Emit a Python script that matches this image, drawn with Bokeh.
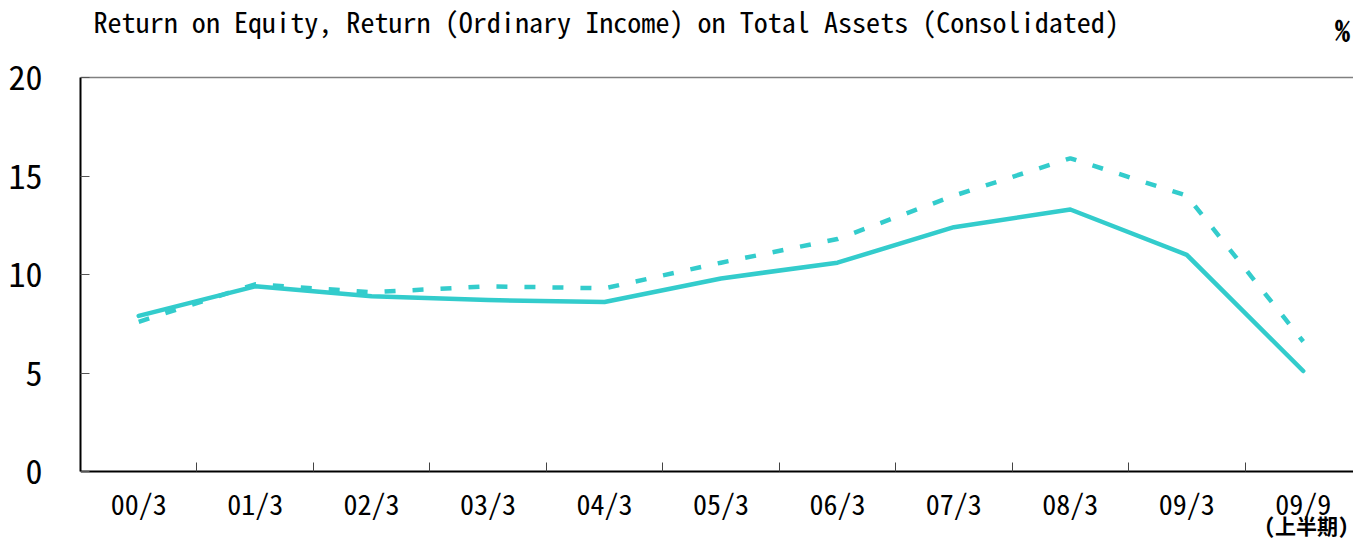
from bokeh.plotting import figure
from bokeh.models import FixedTicker, Label, Range1d, ColumnDataSource
from bokeh.embed import file_html
from bokeh.resources import INLINE

categories = ["00/3", "01/3", "02/3", "03/3", "04/3", "05/3", "06/3", "07/3", "08/3", "09/3", "09/9"]
roe = [7.6, 9.5, 9.1, 9.4, 9.3, 10.6, 11.8, 14.0, 15.9, 14.0, 6.6]
roa = [7.9, 9.4, 8.9, 8.7, 8.6, 9.8, 10.6, 12.4, 13.3, 11.0, 5.1]
y_ticks = [0, 5, 10, 15, 20]
title_text = "Return on Equity, Return (Ordinary Income) on Total Assets (Consolidated)"
unit_text = "%"
sub_label = "(上半期)"

FONT = "'Noto Sans Mono CJK JP', 'Noto Sans CJK JP', sans-serif"
COLOR = "#33CCCC"

W, H = 1353, 538
LEFT, BOTTOM_Y = 80, 471          # frame left / x-axis position in pixels
PX_X = 116.45                     # pixels per category
PX_Y = 19.7                       # pixels per percent
x_end = (W - LEFT) / PX_X
y_end = BOTTOM_Y / PX_Y
y_start = -(H - BOTTOM_Y) / PX_Y

xs = [i + 0.5 for i in range(len(categories))]
src = ColumnDataSource(dict(x=xs, roe=roe, roa=roa))

p = figure(width=W, height=H, output_backend="svg", toolbar_location=None, title=None,
           x_range=Range1d(0, x_end), y_range=Range1d(y_start, y_end))
p.min_border_left = LEFT
p.min_border_right = 0
p.min_border_top = 0
p.min_border_bottom = 0
p.outline_line_color = None
p.background_fill_color = "white"
p.border_fill_color = "white"

p.line("x", "roe", source=src, line_color=COLOR, line_width=4.5, line_dash="11 17")
p.line("x", "roa", source=src, line_color=COLOR, line_width=4.5, line_cap="round", line_join="round")

# grids
p.xgrid.visible = False
p.ygrid.ticker = FixedTicker(ticks=[20])
p.ygrid.grid_line_color = "#808080"
p.ygrid.grid_line_width = 1.5

# x axis, fixed at y = 0
xa = p.xaxis[0]
xa.fixed_location = 0
xa.ticker = FixedTicker(ticks=xs, minor_ticks=list(range(len(categories) + 1)))
xa.major_label_overrides = {x: c for x, c in zip(xs, categories)}
xa.major_tick_line_color = None
xa.minor_tick_in = 9
xa.minor_tick_out = 0
xa.minor_tick_line_color = "#444444"
xa.axis_line_color = "black"
xa.axis_line_width = 2
xa.major_label_text_font = FONT
xa.major_label_text_font_size = "28px"
xa.major_label_text_color = "black"
xa.major_label_standoff = 5

# y axis
ya = p.yaxis[0]
ya.ticker = FixedTicker(ticks=y_ticks)
ya.bounds = (0, 20)
ya.major_tick_in = 9
ya.major_tick_out = 0
ya.major_tick_line_color = "#555555"
ya.minor_tick_line_color = None
ya.axis_line_color = "black"
ya.axis_line_width = 2
ya.major_label_text_font = FONT
ya.major_label_text_font_size = "34px"
ya.major_label_text_color = "black"
ya.major_label_standoff = 38

# texts
p.add_layout(Label(x=(93 - LEFT) / PX_X, y=y_end - 20 / PX_Y, text=title_text, text_font=FONT,
                   text_font_size="28.1px", text_baseline="alphabetic", text_align="left",
                   text_color="black"))
p.add_layout(Label(x=(1342 - LEFT) / PX_X, y=y_end - 28 / PX_Y, text=unit_text, text_font=FONT,
                   text_font_size="30px", text_font_style="bold", text_baseline="alphabetic",
                   text_align="center", text_color="black"))
p.add_layout(Label(x=(1306 - LEFT) / PX_X, y=-(524 - BOTTOM_Y) / PX_Y, text=sub_label, text_font=FONT,
                   text_font_size="21px", text_font_style="bold", text_baseline="middle",
                   text_align="center", text_color="black"))

open("out.html", "w").write(file_html(p, INLINE))
